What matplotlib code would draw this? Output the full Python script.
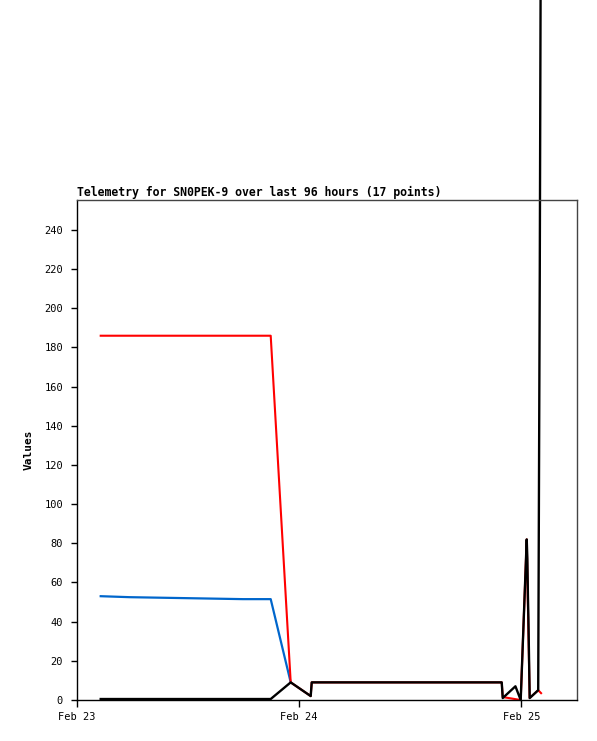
import datetime as dt
import matplotlib
matplotlib.use("Agg")
import matplotlib.pyplot as plt

# hours after Feb 23 00:00 and values
blue_hours = [2.56, 5.69, 11.85, 17.90, 20.92, 23.08]
blue_vals = [53, 52.5, 52, 51.5, 51.5, 9]

red_hours = [2.56, 5.69, 11.85, 17.90, 20.92, 23.08, 25.24, 25.35,
             45.87, 45.98, 47.92, 48.57, 48.68, 48.89, 49.81, 50.12]
red_vals = [186, 186, 186, 186, 186, 9, 2, 9,
            9, 1.5, 0, 82, 53, 1, 5, 3.5]

black_hours = [2.56, 5.69, 11.85, 17.90, 20.92, 23.08, 25.24, 25.35,
               45.87, 45.98, 47.35, 47.92, 48.57, 48.64, 48.70, 48.75,
               48.89, 49.81, 49.98, 50.24]
black_vals = [0.5, 0.5, 0.5, 0.5, 0.5, 9, 2, 9,
              9, 1, 7, 0, 82, 72, 53, 42,
              1, 5, 219, 640]

tick_days = ["Feb 23", "Feb 24", "Feb 25"]

t0 = dt.datetime(2024, 2, 23)


def to_time(hours_l):
    return [t0 + dt.timedelta(hours=h) for h in hours_l]


font_s = "DejaVu Sans Mono"

fig = plt.figure(figsize=(5.97, 7.41), dpi=100)
ax = fig.add_axes([77 / 597, 1 - 700 / 741, 500 / 597, 500 / 741])

ax.plot(to_time(blue_hours), blue_vals, color="#0066cc", lw=1.6)
ax.plot(to_time(red_hours), red_vals, color="#ff0000", lw=1.5)
ax.plot(to_time(black_hours), black_vals, color="black", lw=1.7, clip_on=False)

ax.set_xlim(t0, t0 + dt.timedelta(hours=54))
ax.set_ylim(0, 255.3)

ax.set_yticks(range(0, 241, 20))
ax.set_xticks([t0 + dt.timedelta(days=i) for i in range(len(tick_days))])
ax.set_xticklabels(tick_days)

ax.tick_params(axis="both", direction="out", length=4, width=1,
               labelsize=7.5, colors="black")
ax.tick_params(axis="x", length=5, pad=4)
ax.tick_params(axis="y", pad=6)
for lab in ax.get_xticklabels() + ax.get_yticklabels():
    lab.set_family(font_s)

ax.spines["left"].set_color("black")
ax.spines["bottom"].set_color("black")
ax.spines["top"].set_color("#444444")
ax.spines["right"].set_color("#444444")
for sp in ax.spines.values():
    sp.set_linewidth(1)

ax.set_title("Telemetry for SN0PEK-9 over last 96 hours (17 points)",
             loc="left", fontsize=8.3, fontweight="bold", family=font_s, pad=3)
ax.set_ylabel("Values", fontsize=8, fontweight="bold", family=font_s, labelpad=8)

fig.savefig("out.png", dpi=100)
